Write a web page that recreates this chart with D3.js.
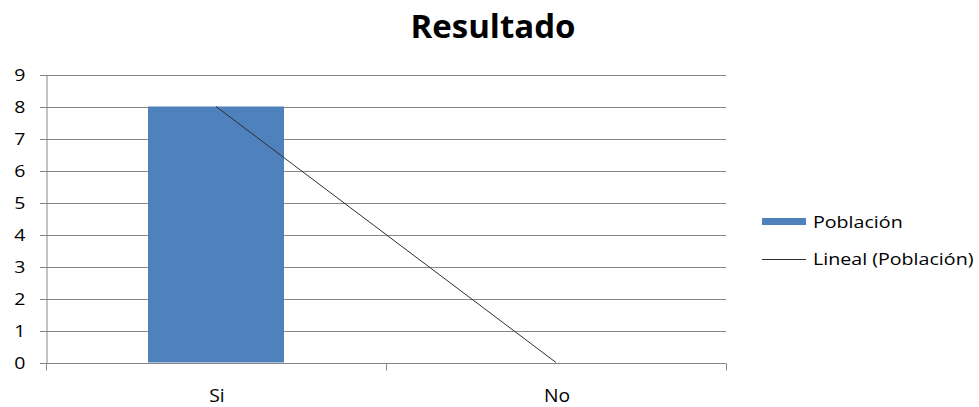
<!DOCTYPE html>
<html>
<head>
<meta charset="utf-8">
<script src="https://cdn.jsdelivr.net/npm/d3@7"></script>
<style>
  html, body { margin: 0; padding: 0; background: #fff; }
  svg { display: block; }
  text { font-family: "Open Sans", "Noto Sans", sans-serif; fill: #000; }
</style>
</head>
<body>
<svg id="chart" width="979" height="407"></svg>
<script>
// Chart data
const categories = ["Si", "No"];
const poblacion = [8, 0];
const yTicks = [0, 1, 2, 3, 4, 5, 6, 7, 8, 9];
const title = "Resultado";
const seriesName = "Población";
const trendName = "Lineal (Población)";

const svg = d3.select("#chart");
const plot = { left: 46, right: 726, top: 74.5, bottom: 362.5 };

const x = d3.scaleBand().domain(categories).range([plot.left, plot.right]).paddingInner(0).paddingOuter(0);
const y = d3.scaleLinear().domain([0, 9]).range([plot.bottom, plot.top]);

const gridColor = "#868686";
const lineColor = "#2a2f3a";

// text drawn slightly widened horizontally
function wideText(sel, px, py, sx) {
  return sel.attr("x", 0).attr("y", 0).attr("transform", `translate(${px},${py}) scale(${sx},1)`);
}

// horizontal gridlines with tick marks reaching left of the axis
svg.append("g").selectAll("line").data(yTicks).join("line")
  .attr("x1", plot.left - 6).attr("x2", plot.right)
  .attr("y1", d => Math.round(y(d)) + 0.5).attr("y2", d => Math.round(y(d)) + 0.5)
  .attr("stroke", gridColor).attr("stroke-width", 1);

// y axis
const yAxis = d3.axisLeft(y).tickValues(yTicks).tickSize(0);
const gy = svg.append("g").attr("transform", `translate(${plot.left + 0.5},0)`).call(yAxis);
gy.select(".domain").attr("stroke", gridColor);
gy.selectAll(".tick text")
  .attr("font-size", 16).style("font-family", "'Open Sans', sans-serif").attr("fill", "#000")
  .attr("text-anchor", "end").attr("dy", "0.36em")
  .attr("x", 0).attr("transform", "translate(-21,0) scale(1.22,1)");

// bars
svg.append("g").selectAll("rect").data(categories).join("rect")
  .attr("x", d => x(d) + x.bandwidth() * 0.3)
  .attr("width", x.bandwidth() * 0.4)
  .attr("y", (d, i) => y(poblacion[i]))
  .attr("height", (d, i) => y(0) - y(poblacion[i]))
  .attr("fill", "#4f81bd");

// x axis with ticks between categories
const gx = svg.append("g").attr("transform", `translate(0,${Math.round(plot.bottom) + 0.5})`);
gx.append("line").attr("x1", plot.left).attr("x2", plot.right).attr("stroke", gridColor);
const boundaries = [plot.left, ...categories.slice(1).map(c => x(c)), plot.right];
gx.selectAll("line.tk").data(boundaries).join("line").attr("class", "tk")
  .attr("x1", d => Math.round(d) + 0.5).attr("x2", d => Math.round(d) + 0.5)
  .attr("y1", 0).attr("y2", 7).attr("stroke", gridColor);
gx.selectAll("text").data(categories).join("text")
  .attr("text-anchor", "middle").attr("font-size", 17.5).text(d => d)
  .each(function (d) { wideText(d3.select(this), x(d) + x.bandwidth() / 2 + 1, 38.5, 1.1); });

// linear trend line through the category points
const n = poblacion.length;
const xs = d3.range(1, n + 1);
const mx = d3.mean(xs), my = d3.mean(poblacion);
const slope = d3.sum(xs, (v, i) => (v - mx) * (poblacion[i] - my)) / d3.sum(xs, v => (v - mx) ** 2);
const intercept = my - slope * mx;
const trend = categories.map((c, i) => [x(c) + x.bandwidth() / 2, y(intercept + slope * xs[i])]);
svg.append("path").attr("d", d3.line()(trend))
  .attr("fill", "none").attr("stroke", lineColor).attr("stroke-width", 1);

// title
svg.append("text").attr("x", 493).attr("y", 38).attr("text-anchor", "middle")
  .attr("font-size", 33).attr("font-weight", "bold").text(title);

// legend
const lg = svg.append("g");
lg.append("rect").attr("x", 762).attr("y", 218).attr("width", 44).attr("height", 7).attr("fill", "#4f81bd");
wideText(lg.append("text").attr("font-size", 16.5).text(seriesName), 813, 228, 1.19);
lg.append("line").attr("x1", 762).attr("x2", 806).attr("y1", 259.5).attr("y2", 259.5).attr("stroke", lineColor);
wideText(lg.append("text").attr("font-size", 16.5).text(trendName), 813, 265, 1.19);
</script>
</body>
</html>
